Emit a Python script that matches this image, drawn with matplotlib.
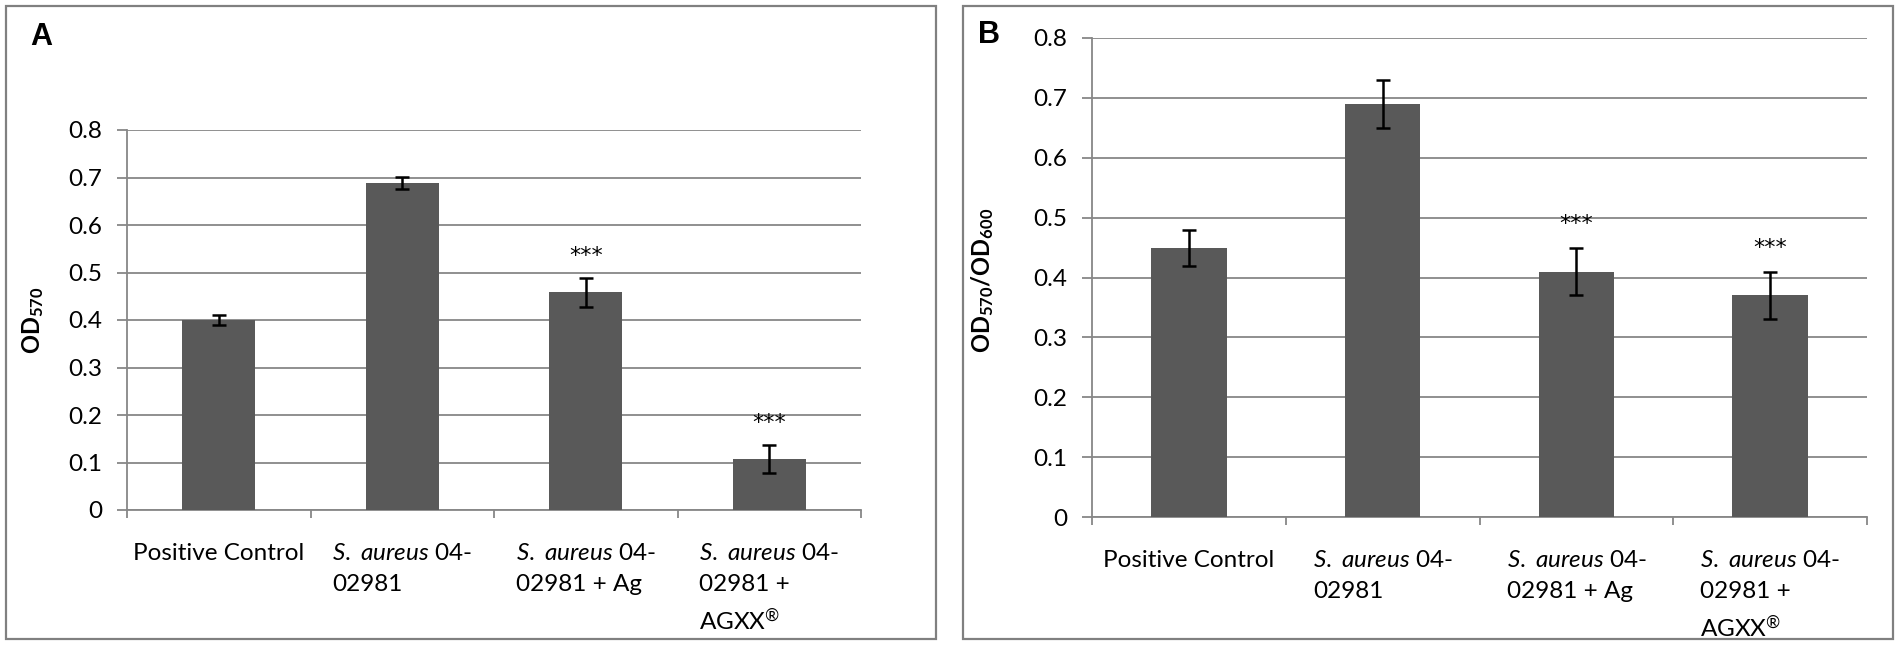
import numpy as np
import matplotlib
matplotlib.use('Agg')
import matplotlib.pyplot as plt
from matplotlib.patches import Rectangle

plt.rcParams['font.family'] = ['Lato', 'DejaVu Sans']
plt.rcParams['mathtext.fontset'] = 'custom'
plt.rcParams['mathtext.rm'] = 'Lato'
plt.rcParams['mathtext.it'] = 'Lato:italic'
plt.rcParams['mathtext.bf'] = 'Lato:bold'

# data
categories = ['Positive Control',
              r'$\mathit{S.\ aureus}$ 04-' + '\n02981',
              r'$\mathit{S.\ aureus}$ 04-' + '\n02981 + Ag',
              r'$\mathit{S.\ aureus}$ 04-' + '\n02981 +\nAGXX$^{®}$']
yticks = [0, 0.1, 0.2, 0.3, 0.4, 0.5, 0.6, 0.7, 0.8]
ytick_labels = ['0', '0.1', '0.2', '0.3', '0.4', '0.5', '0.6', '0.7', '0.8']

od570 = [0.40, 0.688, 0.458, 0.107]
od570_err = [0.010, 0.013, 0.030, 0.030]
ratio = [0.45, 0.69, 0.41, 0.37]
ratio_err = [0.030, 0.040, 0.040, 0.040]
signif = ['', '', '***', '***']

W, H = 1901, 646
fig = plt.figure(figsize=(W / 100, H / 100), dpi=100)

gray = '#878787'
barc = '#595959'
fs = 17.5


def px(x0, y0, x1, y1):
    # pixel box -> figure fraction [left, bottom, width, height]
    return [x0 / W, 1 - y1 / H, (x1 - x0) / W, (y1 - y0) / H]


def panel(rect, vals, errs, bw, star_off):
    ax = fig.add_axes(rect)
    x = np.arange(len(vals))
    ax.bar(x, vals, width=bw, color=barc, zorder=3)
    ax.errorbar(x, vals, yerr=errs, fmt='none', ecolor='black',
                elinewidth=1.8, capsize=5, capthick=1.8, zorder=4)
    for xi, v, e, s in zip(x, vals, errs, signif):
        if s:
            ax.annotate(s, (xi, v + e), xytext=(0, star_off),
                        textcoords='offset pixels', ha='center', va='center',
                        fontsize=16, family='DejaVu Sans')
    ax.set_xlim(-0.5, len(vals) - 0.5)
    ax.set_ylim(0, 0.8)
    ax.set_yticks(yticks)
    ax.set_yticklabels(ytick_labels, fontsize=fs)
    ax.set_xticks(x)
    ax.set_xticklabels(categories, fontsize=fs)
    for lbl in ax.get_xticklabels():
        lbl.set_multialignment('left')
        lbl.set_linespacing(1.55)
    ax.set_xticks(np.arange(-0.5, len(vals)), minor=True)
    ax.tick_params(axis='x', which='major', length=0, pad=24)
    ax.tick_params(axis='x', which='minor', length=6, width=1.3, color=gray)
    ax.tick_params(axis='y', length=7, width=1.3, color=gray, pad=11)
    ax.yaxis.grid(True, color=gray, linewidth=1.3, zorder=0)
    ax.set_axisbelow(True)
    for s in ['top', 'right']:
        ax.spines[s].set_visible(False)
    for s in ['left', 'bottom']:
        ax.spines[s].set_color(gray)
        ax.spines[s].set_linewidth(1.3)
    return ax


axA = panel(px(127, 130, 861, 510), od570, od570_err, 0.40, 22)
axB = panel(px(1092, 38, 1867, 517), ratio, ratio_err, 0.39, 24)

# panel frames
for x0, x1 in [(6, 936), (963, 1893)]:
    fig.patches.append(Rectangle((x0 / W, 1 - 639 / H), (x1 - x0) / W, 633 / H,
                                 transform=fig.transFigure, fill=False,
                                 edgecolor='#808080', linewidth=1.6))

fig.text(30 / W, 1 - 22 / H, 'A', fontsize=22, fontweight='bold',
         family='Liberation Sans', va='top', ha='left')
fig.text(978 / W, 1 - 20 / H, 'B', fontsize=22, fontweight='bold',
         family='Liberation Sans', va='top', ha='left')

fig.text(33 / W, 1 - 320 / H, r'$\mathbf{OD}_{\mathbf{570}}$', rotation=90,
         fontsize=17, ha='center', va='center')
fig.text(983 / W, 1 - 280 / H, r'$\mathbf{OD}_{\mathbf{570}}\mathbf{/OD}_{\mathbf{600}}$',
         rotation=90, fontsize=17, ha='center', va='center')

fig.savefig('out.png', dpi=100)
